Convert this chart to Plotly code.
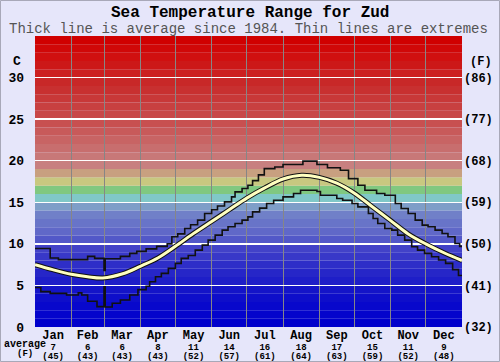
import plotly.graph_objects as go

# ---------------- data ----------------
months = ["Jan", "Feb", "Mar", "Apr", "May", "Jun", "Jul", "Aug", "Sep", "Oct", "Nov", "Dec"]
month_mid = [15.5, 45, 74.5, 105, 135.5, 166, 196.5, 227.5, 258, 288.5, 319, 349.5]
month_start = [31, 59, 90, 120, 151, 181, 212, 243, 273, 304, 334]
avg_c_labels = [7, 6, 6, 8, 11, 14, 16, 18, 17, 15, 11, 9]
avg_f_labels = [45, 43, 43, 43, 52, 57, 61, 64, 63, 59, 52, 48]
c_ticks = [0, 5, 10, 15, 20, 25, 30]
f_ticks = ["(32)", "(41)", "(50)", "(59)", "(68)", "(77)", "(86)"]

avg_day = [0, 15, 31, 45, 58, 75, 90, 105, 120, 135, 151, 166, 181, 196, 212, 228,
           243, 258, 273, 288, 304, 319, 334, 350, 365]
avg_temp = [7.5, 6.9, 6.35, 6.05, 5.9, 6.4, 7.3, 8.3, 9.7, 11.2, 12.7, 14.1, 15.5, 16.7,
            17.8, 18.25, 18.0, 17.3, 16.1, 14.5, 12.8, 11.2, 10.0, 8.9, 8.0]

max_day = [0, 13, 20, 45, 51, 59, 60, 73, 81, 87, 95, 104, 113, 117, 122, 128, 133, 139,
           145, 151, 156, 162, 168, 171, 177, 182, 186, 191, 196, 205, 212, 229, 241, 250,
           261, 268, 276, 282, 292, 299, 308, 313, 319, 325, 331, 336, 342, 348, 353, 359,
           363, 365]
max_temp = [9.45, 8.3, 8.1, 8.5, 8.25, 6.8, 8.2, 8.5, 8.85, 9.1, 9.4, 9.7, 10.0, 10.85,
            11.2, 11.85, 12.3, 12.85, 13.65, 14.1, 14.55, 15.05, 15.65, 16.25, 16.65, 17.05,
            17.6, 18.3, 19.05, 19.25, 19.55, 19.95, 19.55, 19.15, 18.85, 17.85, 17.05, 16.45,
            16.05, 15.85, 14.85, 14.25, 13.65, 12.85, 12.25, 12.05, 11.65, 11.25, 10.85,
            10.05, 9.7, 9.7]

min_day = [0, 5, 13, 27, 37, 40, 45, 53, 59, 60, 66, 73, 81, 88, 95, 98, 103, 108, 114,
           120, 125, 131, 137, 143, 148, 154, 160, 165, 171, 177, 182, 186, 192, 198, 204,
           212, 221, 227, 241, 244, 258, 263, 271, 276, 285, 289, 293, 299, 305, 310, 316,
           322, 327, 333, 339, 345, 351, 357, 362, 365]
min_temp = [4.75, 4.25, 4.05, 3.85, 4.1, 3.85, 3.1, 2.45, 4.85, 2.4, 2.85, 3.25, 3.85, 4.5,
            4.9, 5.45, 6.05, 6.45, 7.05, 7.65, 8.25, 8.6, 9.25, 9.85, 10.45, 11.05, 11.65,
            12.05, 12.45, 12.85, 13.25, 13.85, 14.3, 14.85, 15.25, 15.65, 16.05, 16.45, 16.3,
            15.85, 15.45, 15.25, 14.85, 14.45, 13.65, 13.05, 12.45, 11.85, 11.65, 11.05,
            10.45, 9.65, 9.25, 8.85, 8.45, 8.05, 7.65, 6.9, 6.2, 6.2]

# ---------------- styles ----------------
band_colors = [
    (0, 0, 204), (4, 4, 204), (8, 8, 204), (14, 14, 202), (20, 20, 200),
    (30, 30, 200), (38, 38, 200), (46, 46, 200), (56, 56, 200), (66, 66, 200),
    (82, 88, 200), (96, 104, 200), (104, 116, 200), (112, 128, 200), (126, 158, 200),
    (128, 200, 200), (128, 200, 128), (200, 200, 128), (200, 160, 128), (200, 128, 128),
    (200, 120, 120), (200, 110, 110), (200, 100, 100), (200, 90, 90), (200, 80, 80),
    (200, 72, 72), (200, 64, 64), (200, 56, 56), (200, 48, 48), (200, 40, 40),
    (204, 32, 32), (204, 24, 24), (208, 16, 16), (208, 8, 8), (208, 0, 0),
]
FONT = "Liberation Mono, Courier New, monospace"
BG = "#e6e6fa"

fig = go.Figure()

# extremes
fig.add_trace(go.Scatter(x=max_day, y=max_temp, mode="lines", line=dict(color="#111111", width=1.6, shape="hv"),
                         hoverinfo="skip", showlegend=False))
fig.add_trace(go.Scatter(x=min_day, y=min_temp, mode="lines", line=dict(color="#111111", width=1.6, shape="hv"),
                         hoverinfo="skip", showlegend=False))
# average: outlined thick line
fig.add_trace(go.Scatter(x=avg_day, y=avg_temp, mode="lines", line=dict(color="#111111", width=5, shape="spline"),
                         hoverinfo="skip", showlegend=False))
fig.add_trace(go.Scatter(x=avg_day, y=avg_temp, mode="lines", line=dict(color="#ffffc0", width=3, shape="spline"),
                         hoverinfo="skip", showlegend=False))
# invisible traces to activate overlaying axes
fig.add_trace(go.Scatter(x=month_mid, y=avg_c_labels, xaxis="x2", yaxis="y", opacity=0, mode="markers",
                         hoverinfo="skip", showlegend=False))
fig.add_trace(go.Scatter(x=month_mid, y=avg_c_labels, xaxis="x3", yaxis="y", opacity=0, mode="markers",
                         hoverinfo="skip", showlegend=False))
fig.add_trace(go.Scatter(x=month_mid, y=avg_c_labels, xaxis="x", yaxis="y2", opacity=0, mode="markers",
                         hoverinfo="skip", showlegend=False))

# background bands
shapes = []
for i, c in enumerate(band_colors):
    shapes.append(dict(type="rect", xref="x", yref="y", x0=0, x1=365, y0=i, y1=i + 1,
                       fillcolor="rgb(%d,%d,%d)" % c, line=dict(width=0), layer="below"))
# outer border
shapes.append(dict(type="rect", xref="paper", yref="paper", x0=-34.5 / 427, x1=1 + 37.5 / 427,
                   y0=-34.5 / 291, y1=1 + 35.5 / 291, line=dict(color="#a8a8b8", width=1), layer="above"))

annotations = [
    dict(text="<b>Sea Temperature Range for Zud</b>", xref="paper", yref="paper", x=(250 - 35) / 427,
         y=(327 - 13) / 291, xanchor="center", yanchor="middle", showarrow=False,
         font=dict(family=FONT, size=16, color="#000000")),
    dict(text="Thick line is average since 1984. Thin lines are extremes", xref="paper", yref="paper",
         x=(248 - 35) / 427, y=(327 - 28.5) / 291, xanchor="center", yanchor="middle", showarrow=False,
         font=dict(family=FONT, size=14, color="#555555")),
    dict(text="<b>C</b>", xref="paper", yref="paper", x=(23 - 35) / 427, y=(327 - 61) / 291,
         xanchor="right", yanchor="middle", showarrow=False, font=dict(family=FONT, size=13, color="#000")),
    dict(text="<b>(F)</b>", xref="paper", yref="paper", x=(481 - 35) / 427, y=(327 - 62) / 291,
         xanchor="center", yanchor="middle", showarrow=False, font=dict(family=FONT, size=12, color="#000")),
    dict(text="<b>average</b>", xref="paper", yref="paper", x=(2 - 35) / 427, y=(327 - 344.5) / 291,
         xanchor="left", yanchor="middle", showarrow=False, font=dict(family=FONT, size=10, color="#000")),
    dict(text="<b>(F)</b>", xref="paper", yref="paper", x=(25 - 35) / 427, y=(327 - 354) / 291,
         xanchor="center", yanchor="middle", showarrow=False, font=dict(family=FONT, size=9, color="#000")),
]

fig.update_layout(
    width=500, height=362,
    autosize=False,
    margin=dict(l=35, r=38, t=36, b=35, pad=0),
    paper_bgcolor=BG, plot_bgcolor=BG,
    showlegend=False,
    shapes=shapes,
    annotations=annotations,
    xaxis=dict(range=[0, 365], tickmode="array", tickvals=month_mid, ticktext=months,
               showgrid=False, zeroline=False, showline=False, ticks="", automargin=False,
               tickfont=dict(family=FONT, size=12, color="#000", weight="bold"),
               ticklabelstandoff=-1,
               minor=dict(tickmode="array", tickvals=month_start, showgrid=True,
                          gridcolor="#868686", gridwidth=1, ticks="")),
    xaxis2=dict(range=[0, 365], overlaying="x", anchor="y", side="bottom", tickmode="array",
                tickvals=month_mid, ticktext=[str(v) for v in avg_c_labels], automargin=False,
                showgrid=False, zeroline=False, showline=False, ticks="",
                tickfont=dict(family=FONT, size=9, color="#000", weight="bold"), ticklabelstandoff=13),
    xaxis3=dict(range=[0, 365], overlaying="x", anchor="y", side="bottom", tickmode="array",
                tickvals=month_mid, ticktext=["(%d)" % v for v in avg_f_labels], automargin=False,
                showgrid=False, zeroline=False, showline=False, ticks="",
                tickfont=dict(family=FONT, size=9, color="#000", weight="bold"), ticklabelstandoff=22),
    yaxis=dict(range=[0, 35], tickmode="array", tickvals=c_ticks, ticktext=[str(v) for v in c_ticks],
               showgrid=True, gridcolor="#ffffff", gridwidth=1.5, zeroline=False, showline=False, ticks="",
               automargin=False,
               tickfont=dict(family=FONT, size=13, color="#000", weight="bold"), ticklabelstandoff=10),
    yaxis2=dict(range=[0, 35], overlaying="y", side="right", anchor="x", tickmode="array",
                tickvals=c_ticks, ticktext=f_ticks, showgrid=False, zeroline=False, showline=False,
                ticks="", automargin=False, tickfont=dict(family=FONT, size=12, color="#000", weight="bold"),
                ticklabelstandoff=1),
)

fig.write_html("out.html", config={"displayModeBar": False, "staticPlot": True},
               post_script="document.body.style.margin='0';document.body.style.overflow='hidden';")
